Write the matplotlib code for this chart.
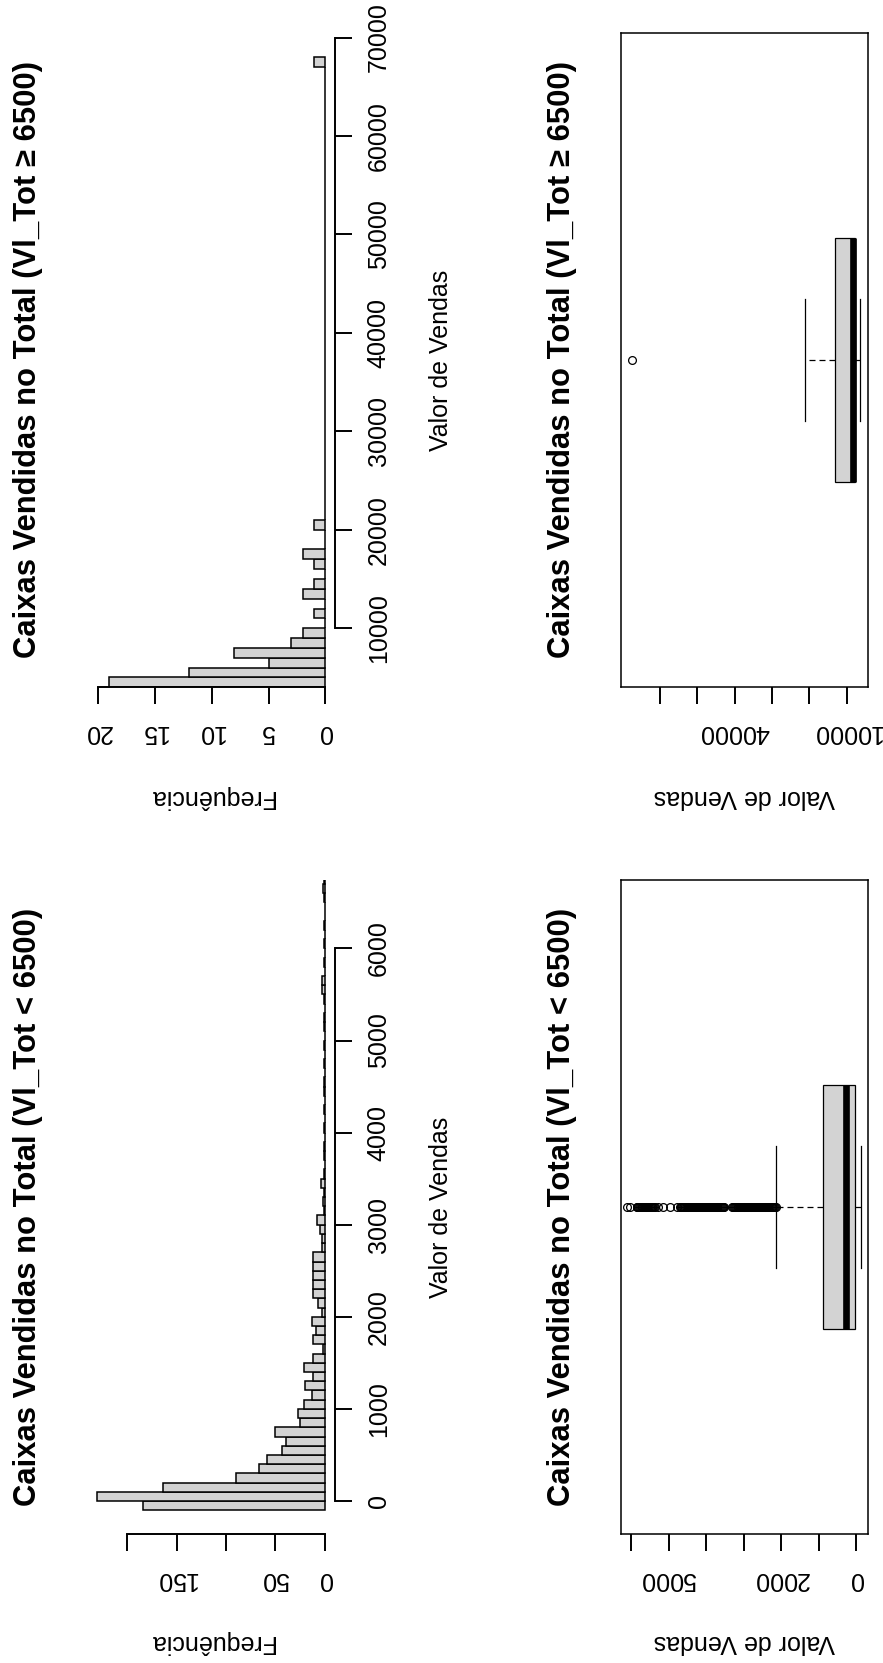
import numpy as np
import matplotlib
matplotlib.use("Agg")
import matplotlib.pyplot as plt
from matplotlib.ticker import FixedLocator, FixedFormatter

plt.rcParams['font.family'] = ['Liberation Sans', 'DejaVu Sans']

W, H, DPI = 883, 1663, 100

############################################################################
# data
############################################################################
# histogram Vl_Tot >= 6500, bins of 1000 starting at 4000
hi_start, hi_bin = 4000, 1000
hi_counts = [19, 12, 5, 8, 3, 2, 0, 1, 0, 2,
             1, 0, 1, 2, 0, 0, 1, 0, 0, 0,
             0, 0, 0, 0, 0, 0, 0, 0, 0, 0,
             0, 0, 0, 0, 0, 0, 0, 0, 0, 0,
             0, 0, 0, 0, 0, 0, 0, 0, 0, 0,
             0, 0, 0, 0, 0, 0, 0, 0, 0, 0,
             0, 0, 0, 1]

# histogram Vl_Tot < 6500, bins of 100 starting at -100
lo_start, lo_bin = -100, 100
lo_counts = [184, 230, 164, 90, 67, 59, 43, 39, 50, 25,
             27, 21, 13, 20, 12, 21, 12, 2, 12, 9,
             13, 3, 7, 12, 12, 12, 12, 12, 3, 3,
             5, 8, 1, 2, 1, 4, 1, 0, 1, 1,
             0, 1, 0, 1, 0, 1, 1, 0, 1, 0,
             1, 0, 1, 1, 0, 1, 3, 3, 0, 1,
             0, 1, 0, 1, 0, 0, 1, 2, 1]

# boxplot statistics
hi_box = dict(whislo=6510, q1=7650, med=8300, q3=13100, whishi=21150)
hi_out = [67500]
lo_box = dict(whislo=-125, q1=27, med=255, q3=888, whishi=2133)
lo_out = [6115, 6027, 5850, 5830, 5805, 5790, 5770, 5745, 5720, 5700,
          5680, 5655, 5630, 5610, 5590, 5565, 5540, 5520, 5500, 5475,
          5450, 5430, 5405, 5385, 5360, 5270, 5150, 4950, 4780, 4690,
          4680, 4655, 4630, 4610, 4585, 4560, 4540, 4515, 4490, 4470,
          4445, 4420, 4400, 4375, 4350, 4330, 4305, 4280, 4260, 4235,
          4210, 4190, 4165, 4140, 4120, 4095, 4070, 4050, 4025, 4000,
          3980, 3955, 3930, 3910, 3885, 3860, 3840, 3815, 3790, 3770,
          3745, 3720, 3700, 3675, 3650, 3630, 3605, 3580, 3560, 3535,
          3520, 3300, 3280, 3255, 3230, 3210, 3185, 3160, 3140, 3115,
          3090, 3070, 3045, 3020, 3000, 2975, 2950, 2930, 2905, 2880,
          2860, 2835, 2810, 2790, 2765, 2740, 2720, 2695, 2670, 2650,
          2625, 2600, 2580, 2555, 2530, 2510, 2485, 2460, 2440, 2415,
          2390, 2370, 2345, 2320, 2300, 2275, 2250, 2230, 2205, 2180,
          2160, 2140]

hi_title = "Caixas Vendidas no Total (Vl_Tot \u2265 6500)"
lo_title = "Caixas Vendidas no Total (Vl_Tot < 6500)"
val_label = "Valor de Vendas"
freq_label = "Frequência"

hi_val_ticks = [10000, 20000, 30000, 40000, 50000, 60000, 70000]
lo_val_ticks = [0, 1000, 2000, 3000, 4000, 5000, 6000]
hi_freq_ticks = [0, 5, 10, 15, 20]
hi_freq_labels = ["0", "5", "10", "15", "20"]
lo_freq_ticks = [0, 50, 100, 150, 200]
lo_freq_labels = ["0", "50", "", "150", ""]
hi_box_ticks = [10000, 20000, 30000, 40000, 50000, 60000]
hi_box_labels = ["10000", "", "", "40000", "", ""]
lo_box_ticks = [0, 1000, 2000, 3000, 4000, 5000, 6000]
lo_box_labels = ["0", "", "2000", "", "", "5000", ""]

############################################################################
# figure
############################################################################
fig = plt.figure(figsize=(W / DPI, H / DPI), dpi=DPI)
FS = 18
TFS = 22.3
LW = 1.4
GRAY = "#d3d3d3"


def px_axes(x0, y0, x1, y1):
    return fig.add_axes([x0 / W, 1 - y1 / H, (x1 - x0) / W, (y1 - y0) / H])


def px_text(x, y, s, **kw):
    fig.text(x / W, 1 - y / H, s, ha="center", va="center", **kw)


def hist_panel(y0, y1, start, binw, counts, ylim, xlim, vticks, fticks, flabels):
    ax = px_axes(88, y0, 334.5, y1)
    lefts = [start + i * binw for i in range(len(counts))]
    ax.barh(lefts, counts, height=binw, align="edge", color=GRAY,
            edgecolor="black", linewidth=1.1)
    ax.set_ylim(*ylim)
    ax.set_xlim(*xlim)
    for s in ["top", "left"]:
        ax.spines[s].set_visible(False)
    ax.spines["right"].set_bounds(vticks[0], vticks[-1])
    ax.spines["bottom"].set_bounds(fticks[0], fticks[-1])
    for s in ["right", "bottom"]:
        ax.spines[s].set_linewidth(LW)
    ax.yaxis.tick_right()
    ax.yaxis.set_major_locator(FixedLocator(vticks))
    ax.yaxis.set_major_formatter(FixedFormatter([str(v) for v in vticks]))
    ax.xaxis.set_major_locator(FixedLocator(fticks))
    ax.xaxis.set_major_formatter(FixedFormatter(flabels))
    ax.tick_params(axis="y", direction="out", length=12.2, width=LW, pad=11,
                   labelsize=FS, labelrotation=90)
    ax.tick_params(axis="x", direction="out", length=12.2, width=LW, pad=11,
                   labelsize=FS, labelrotation=180)
    for t in ax.get_yticklabels():
        t.set_va("center")
    ax.patch.set_alpha(0)
    return ax


def box_panel(y0, y1, stats, outl, xlim, ticks, labels):
    ax = px_axes(621, y0, 868, y1)
    st = dict(stats)
    st["fliers"] = outl
    ax.bxp([st], positions=[1], widths=0.3726, capwidths=0.187, vert=False,
           patch_artist=True, manage_ticks=False,
           boxprops=dict(facecolor=GRAY, edgecolor="black", linewidth=0.9),
           medianprops=dict(color="black", linewidth=4.8, solid_capstyle="butt"),
           whiskerprops=dict(color="black", linewidth=0.9, linestyle=(0, (4.8, 3.2))),
           capprops=dict(color="black", linewidth=0.9),
           flierprops=dict(marker="o", markerfacecolor="none", markeredgecolor="black",
                           markersize=5.6, markeredgewidth=0.9))
    ax.set_xlim(*xlim)
    ax.set_ylim(0.5, 1.5)
    for s in ax.spines.values():
        s.set_linewidth(1.1)
    ax.xaxis.set_major_locator(FixedLocator(ticks))
    ax.xaxis.set_major_formatter(FixedFormatter(labels))
    ax.set_yticks([])
    ax.tick_params(axis="x", direction="out", length=12.2, width=LW, pad=11,
                   labelsize=FS, labelrotation=180)
    return ax


# top row: Vl_Tot >= 6500
hist_panel(33.3, 687.3, hi_start, hi_bin, hi_counts, (4000, 70430), (20.84, -0.79),
           hi_val_ticks, hi_freq_ticks, hi_freq_labels)
box_panel(33.3, 687.3, hi_box, hi_out, (70350, 4305), hi_box_ticks, hi_box_labels)

# bottom row: Vl_Tot < 6500
hist_panel(880, 1534.3, lo_start, lo_bin, lo_counts, (-362, 6743), (239.4, -9.6),
           lo_val_ticks, lo_freq_ticks, lo_freq_labels)
box_panel(880, 1534.3, lo_box, lo_out, (6267, -320), lo_box_ticks, lo_box_labels)

# titles and axis labels
for yc, title in [(360, hi_title), (1207, lo_title)]:
    px_text(28, yc, title, rotation=90, fontsize=TFS, fontweight="bold")
    px_text(562, yc, title, rotation=90, fontsize=TFS, fontweight="bold")
    px_text(441, yc, val_label, rotation=90, fontsize=FS)

for yl in [797, 1642]:
    px_text(211, yl, freq_label, rotation=180, fontsize=FS)
    px_text(744.5, yl, val_label, rotation=180, fontsize=FS)

fig.savefig("out.png", dpi=DPI)
